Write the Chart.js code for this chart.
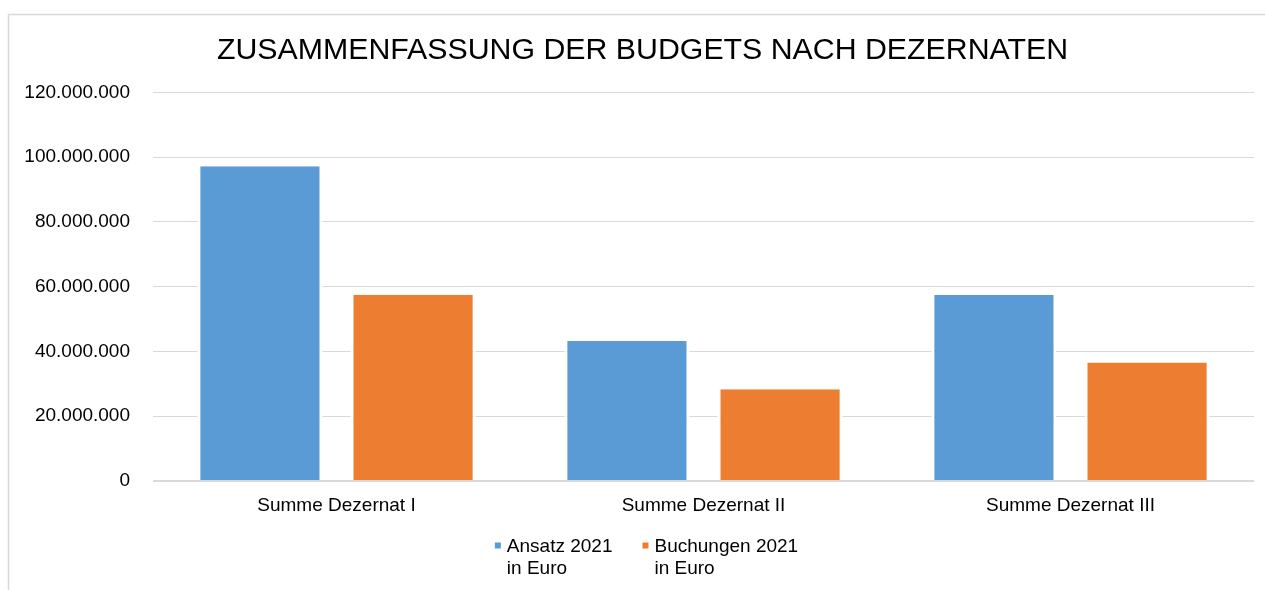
<!DOCTYPE html>
<html>
<head>
<meta charset="utf-8">
<script src="https://cdn.jsdelivr.net/npm/chart.js@4.4.1/dist/chart.umd.min.js"></script>
<style>
  html, body { margin: 0; padding: 0; background: #ffffff; }
  canvas { display: block; }
</style>
</head>
<body>
<canvas id="c" width="1265" height="590"></canvas>
<script>
const chartTitle = 'ZUSAMMENFASSUNG DER BUDGETS NACH DEZERNATEN';
const categories = ['Summe Dezernat I', 'Summe Dezernat II', 'Summe Dezernat III'];
const ansatz2021 = [97200000, 43200000, 57400000];
const buchungen2021 = [57500000, 28300000, 36600000];
const seriesLabels = [['Ansatz 2021', 'in Euro'], ['Buchungen 2021', 'in Euro']];
const seriesColors = ['#5B9BD5', '#ED7D31'];
const yMin = 0;
const yMax = 120000000;
const yStep = 20000000;

const FONT = '"Liberation Sans", Arial, Helvetica, sans-serif';

function fmtDE(v) {
  return String(Math.round(v)).replace(/\B(?=(\d{3})+(?!\d))/g, '.');
}

const frame = {
  id: 'frame',
  afterLayout(chart) {
    if (chart.titleBlock) {
      chart.titleBlock.left = 31;
    }
  },
  beforeDraw(chart) {
    const ctx = chart.ctx;
    ctx.save();
    ctx.fillStyle = '#ffffff';
    ctx.fillRect(0, 0, chart.width, chart.height);
    ctx.strokeStyle = '#d9d9d9';
    ctx.lineWidth = 1.5;
    ctx.strokeRect(8.5, 14.5, chart.width + 50, chart.height + 50);
    ctx.restore();
  }
};

const customLegend = {
  id: 'customLegend',
  afterDraw(chart) {
    const ctx = chart.ctx;
    ctx.save();
    ctx.font = '19px ' + FONT;
    ctx.fillStyle = '#000000';
    ctx.textBaseline = 'alphabetic';
    ctx.textAlign = 'left';
    const box = 6, gapBox = 6, itemGap = 30, lineH = 21.5;
    const items = chart.data.datasets.map((ds, i) => {
      const lines = seriesLabels[i];
      const w = Math.max(...lines.map(l => ctx.measureText(l).width));
      return { lines, w, color: ds.backgroundColor };
    });
    let total = 0;
    items.forEach((it, i) => { total += box + gapBox + it.w + (i < items.length - 1 ? itemGap : 0); });
    const center = 646.5;
    let x = center - total / 2;
    const baseY = 552;
    items.forEach(it => {
      ctx.fillStyle = it.color;
      ctx.fillRect(x, baseY - 9.5, box, box);
      ctx.fillStyle = '#000000';
      it.lines.forEach((l, j) => ctx.fillText(l, x + box + gapBox, baseY + j * lineH));
      x += box + gapBox + it.w + itemGap;
    });
    ctx.restore();
  }
};

new Chart(document.getElementById('c'), {
  type: 'bar',
  data: {
    labels: categories,
    datasets: [
      {
        label: seriesLabels[0].join(' '),
        data: ansatz2021,
        backgroundColor: seriesColors[0],
        borderColor: '#ffffff',
        borderWidth: { left: 3, right: 3, top: 0, bottom: 0 },
        categoryPercentage: 0.8345,
        barPercentage: 0.817
      },
      {
        label: seriesLabels[1].join(' '),
        data: buchungen2021,
        backgroundColor: seriesColors[1],
        borderColor: '#ffffff',
        borderWidth: { left: 3, right: 3, top: 0, bottom: 0 },
        categoryPercentage: 0.8345,
        barPercentage: 0.817
      }
    ]
  },
  options: {
    responsive: false,
    animation: false,
    devicePixelRatio: 1,
    layout: { padding: { left: 0, right: 11, top: 0, bottom: 0 } },
    plugins: {
      legend: { display: false },
      tooltip: { enabled: false },
      title: {
        display: true,
        text: chartTitle,
        color: '#000000',
        font: { family: FONT, size: 30.3, weight: 'normal' },
        padding: { top: 32, bottom: 24 }
      }
    },
    scales: {
      x: {
        grid: { display: false },
        border: { display: false },
        ticks: {
          color: '#000000',
          font: { family: FONT, size: 19 },
          padding: 5,
          autoSkip: false,
          maxRotation: 0
        },
        afterFit(scale) { scale.height = 109; }
      },
      y: {
        min: yMin,
        max: yMax,
        border: { display: false },
        grid: {
          drawTicks: false,
          color: '#d9d9d9',
          lineWidth: (c) => (c.tick && c.tick.value === 0 ? 2 : 1)
        },
        ticks: {
          stepSize: yStep,
          color: '#000000',
          font: { family: FONT, size: 19 },
          padding: 23,
          callback: (v) => fmtDE(v)
        },
        afterFit(scale) { scale.width = 153; }
      }
    }
  },
  plugins: [frame, customLegend]
});
</script>
</body>
</html>
